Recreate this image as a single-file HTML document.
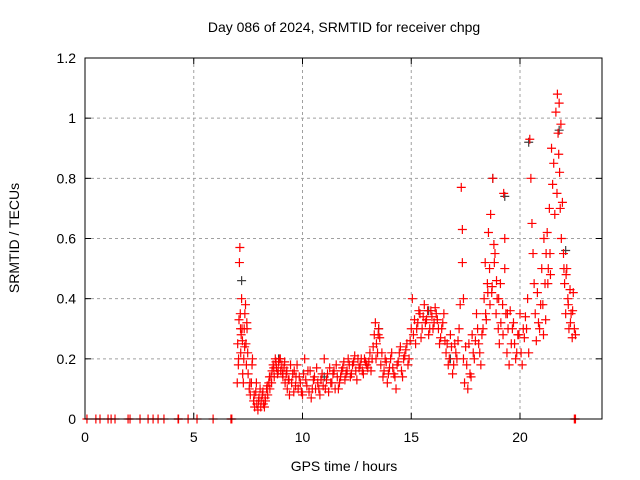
<!DOCTYPE html>
<html><head><meta charset="utf-8"><style>
body{margin:0;background:#fff}
svg{display:block;font-family:"Liberation Sans",sans-serif}
</style></head><body>
<svg id="chart" width="640" height="480" viewBox="0 0 640 480">
<rect width="640" height="480" fill="#fff"/>
<text x="344" y="32" font-size="14" text-anchor="middle">Day 086 of 2024, SRMTID for receiver chpg</text>
<text x="344" y="471" font-size="14" text-anchor="middle">GPS time / hours</text>
<text x="19" y="238" font-size="14" text-anchor="middle" transform="rotate(-90 19 238)">SRMTID / TECUs</text>
<g id="grid"></g>
<g id="ticks"></g>
<g id="dark"></g>
<g id="red"></g>
<rect x="85" y="58" width="517" height="361" fill="none" stroke="#000" stroke-width="1"/>
</svg>
<script>
const xTicks=[0,5,10,15,20];
const yTicks=[0,0.2,0.4,0.6,0.8,1,1.2];
const yTickLabels=["0","0.2","0.4","0.6","0.8","1","1.2"];
const zeroTimes=[0.09,0.5,0.69,1.06,1.2,1.38,1.98,2.07,2.53,2.9,3.13,3.36,3.63,4.28,4.3,4.74,5.15,5.89,6.71,6.75,22.5,22.55];
const redTimes=[7.0,7.02,7.05,7.08,7.1,7.12,7.14,7.16,7.18,7.2,7.22,7.25,7.28,7.3,7.32,7.35,7.38,7.4,7.42,7.45,7.48,
7.5,7.55,7.6,7.65,7.7,7.75,7.8,7.85,7.9,7.95,8.0,8.05,8.1,8.15,8.2,8.25,8.3,8.35,8.4,8.45,
8.5,8.55,8.6,8.65,8.7,8.75,8.8,8.85,8.9,8.95,9.0,9.05,9.1,9.15,9.2,9.25,9.3,
9.35,9.4,9.5,9.55,9.6,9.7,9.75,9.8,9.9,10.0,10.05,10.1,10.2,10.3,10.35,10.4,10.5,10.6,10.65,10.7,10.8,10.9,10.95,11.0,11.1,11.2,11.25,11.3,11.4,11.5,11.55,11.6,11.7,11.8,11.9,12.0,
12.1,12.2,12.3,12.4,12.5,12.6,12.7,12.8,12.9,13.0,13.1,13.2,13.3,13.35,13.4,13.45,13.5,13.55,13.6,13.7,13.8,13.9,14.0,14.1,14.2,14.3,14.4,14.5,14.6,14.7,14.8,14.9,
15.0,15.05,15.1,15.2,15.3,15.4,15.5,15.6,15.7,15.8,15.9,16.0,16.1,16.2,16.3,16.4,16.5,
16.6,16.7,16.8,16.9,17.0,17.1,17.2,17.25,17.3,17.35,17.35,17.4,17.4,17.45,17.5,17.6,17.7,17.8,17.9,18.0,18.1,18.2,18.3,
18.35,18.4,18.45,18.5,18.55,18.6,18.65,18.7,18.75,18.8,18.85,18.9,18.95,19.0,19.05,19.1,19.2,19.25,19.3,19.3,19.35,19.4,19.45,19.5,
19.6,19.7,19.8,19.9,20.0,20.1,20.2,20.3,20.35,20.4,20.45,20.5,20.55,20.6,20.65,20.7,20.8,20.9,21.0,21.05,21.1,21.15,21.2,21.25,21.3,21.35,21.4,
21.45,21.5,21.55,21.6,21.65,21.7,21.72,21.75,21.78,21.8,21.82,21.85,21.88,21.9,21.95,22.0,22.05,22.1,22.15,22.2,22.25,22.3,22.35,22.4,22.45,22.5,22.55];
const redValues=[0.12,0.25,0.18,0.33,0.52,0.57,0.35,0.22,0.28,0.4,0.3,0.15,0.12,0.2,0.3,0.35,0.38,0.25,0.18,0.3,0.22,
0.15,0.1,0.08,0.12,0.2,0.06,0.04,0.09,0.05,0.03,0.07,0.1,0.06,0.08,0.05,0.04,0.06,0.1,0.08,0.12,
0.1,0.14,0.16,0.18,0.14,0.2,0.17,0.15,0.19,0.2,0.16,0.18,0.14,0.17,0.12,0.15,0.1,
0.13,0.08,0.12,0.15,0.09,0.14,0.18,0.1,0.12,0.08,0.15,0.2,0.11,0.09,0.16,0.07,0.13,0.1,0.17,0.12,0.08,0.15,0.11,0.2,0.13,0.09,0.17,0.12,0.15,0.1,0.18,0.14,0.12,0.16,0.19,0.15,
0.2,0.14,0.18,0.21,0.13,0.17,0.2,0.15,0.19,0.17,0.22,0.2,0.28,0.32,0.25,0.22,0.3,0.27,0.18,0.14,0.2,0.12,0.17,0.22,0.15,0.1,0.19,0.24,0.14,0.21,0.25,0.2,
0.3,0.4,0.28,0.25,0.32,0.35,0.3,0.38,0.33,0.28,0.36,0.3,0.37,0.33,0.25,0.3,0.35,
0.22,0.18,0.28,0.15,0.25,0.2,0.3,0.38,0.77,0.63,0.52,0.4,0.2,0.12,0.24,0.1,0.15,0.28,0.2,0.35,0.25,0.18,0.3,
0.4,0.52,0.33,0.45,0.62,0.5,0.68,0.42,0.8,0.58,0.55,0.35,0.4,0.3,0.25,0.45,0.38,0.75,0.6,0.5,0.35,0.22,0.3,0.18,
0.25,0.32,0.2,0.28,0.35,0.18,0.27,0.3,0.4,0.22,0.93,0.8,0.65,0.55,0.45,0.35,0.42,0.3,0.5,0.38,0.6,0.45,0.55,0.62,0.5,0.7,0.48,
0.9,0.78,0.85,0.68,1.02,0.75,1.08,0.95,0.88,1.05,0.82,0.7,0.98,0.6,0.72,0.55,0.45,0.35,0.5,0.4,0.3,0.43,0.35,0.27,0.42,0.3,0.28];
const redTimesB=[7.06,7.15,7.24,7.34,7.44,7.58,7.68,7.78,7.88,7.98,8.08,8.18,8.28,8.38,8.48,8.58,8.68,8.78,8.88,8.98,9.08,9.18,9.28,9.38,9.45,9.62,9.68,9.85,9.95,10.15,10.25,10.45,10.55,10.75,10.85,11.05,11.15,11.35,11.45,11.65,11.75,11.85,11.95,12.05,12.15,12.25,12.35,12.45,12.55,12.65,12.75,12.85,12.95,13.05,13.15,13.25,13.38,13.48,13.65,13.75,13.85,13.95,14.05,14.15,14.25,14.35,14.45,14.55,14.65,14.75,14.85,14.95,15.15,15.25,15.35,15.45,15.55,15.65,15.75,15.85,15.95,16.05,16.15,16.25,16.35,16.45,16.55,16.65,16.75,16.85,16.95,17.05,17.15,17.55,17.65,17.75,17.85,17.95,18.05,18.15,18.25,18.42,18.52,18.62,18.72,18.82,18.92,19.02,19.12,19.22,19.42,19.55,19.65,19.75,19.85,19.95,20.05,20.15,20.25,20.75,20.85,20.95,21.08,21.18,21.28,21.38,22.02,22.12,22.22,22.32,22.42];
const redValuesB=[0.2,0.3,0.26,0.24,0.32,0.12,0.18,0.08,0.12,0.06,0.04,0.09,0.07,0.11,0.14,0.12,0.17,0.19,0.16,0.2,0.15,0.19,0.16,0.13,0.18,0.16,0.11,0.14,0.09,0.13,0.16,0.1,0.14,0.1,0.13,0.1,0.15,0.12,0.16,0.1,0.14,0.17,0.13,0.16,0.18,0.15,0.19,0.16,0.2,0.18,0.16,0.2,0.18,0.19,0.16,0.24,0.2,0.28,0.22,0.16,0.19,0.15,0.2,0.17,0.14,0.18,0.22,0.16,0.2,0.23,0.18,0.26,0.33,0.3,0.36,0.27,0.34,0.32,0.36,0.3,0.34,0.32,0.35,0.3,0.27,0.32,0.26,0.25,0.2,0.24,0.18,0.22,0.26,0.18,0.25,0.14,0.22,0.26,0.3,0.22,0.28,0.35,0.42,0.38,0.44,0.52,0.46,0.4,0.32,0.28,0.35,0.36,0.3,0.25,0.22,0.28,0.22,0.3,0.34,0.26,0.32,0.38,0.28,0.33,0.45,0.55,0.5,0.48,0.38,0.32,0.36,0.4];
const darkTimes=[7.2,8.9,11.0,13.5,15.8,16.8,18.75,19.3,20.4,21.8,22.1];
const darkValues=[0.46,0.2,0.14,0.3,0.36,0.2,0.8,0.74,0.92,0.96,0.56];

const X0=85,XS=21.75,Y0=419,YS=361/1.2;
function xp(t){return X0+t*XS;}
function yp(v){return Y0-v*YS;}
const NS="http://www.w3.org/2000/svg";
function mk(tag,attrs,parent){const e=document.createElementNS(NS,tag);for(const k in attrs)e.setAttribute(k,attrs[k]);parent.appendChild(e);return e;}
const grid=document.getElementById('grid'),ticks=document.getElementById('ticks');
xTicks.forEach(t=>{
  const x=xp(t);
  if(t>0){const g=mk('line',{x1:x,x2:x,y1:58,y2:419,stroke:'#a0a0a0','stroke-dasharray':'3,3'},grid);
  
  }
  mk('line',{x1:x,x2:x,y1:419,y2:413,stroke:'#000'},ticks);
  mk('line',{x1:x,x2:x,y1:58,y2:64,stroke:'#000'},ticks);
  const l=mk('text',{x:x,y:442,'font-size':14,'text-anchor':'middle'},ticks);l.textContent=t;
  
  
});
yTicks.forEach((v,i)=>{
  const y=yp(v);
  if(v>0&&v<1.2){const g=mk('line',{x1:85,x2:602,y1:y,y2:y,stroke:'#a0a0a0','stroke-dasharray':'3,3'},grid);
  
  }
  mk('line',{x1:85,x2:91,y1:y,y2:y,stroke:'#000'},ticks);
  mk('line',{x1:602,x2:596,y1:y,y2:y,stroke:'#000'},ticks);
  const l=mk('text',{x:76,y:y+5,'font-size':14,'text-anchor':'end'},ticks);l.textContent=yTickLabels[i];
  
  
});
function plus(g,t,v,col){
  const x=xp(t),y=yp(v);
  const p=mk('path',{d:`M${x-4.5},${y}H${x+4.5}M${x},${y-4.5}V${y+4.5}`,stroke:col,'stroke-width':1.2,fill:'none'},g);
  
  
}
const dark=document.getElementById('dark'),red=document.getElementById('red');
darkTimes.forEach((t,i)=>plus(dark,t,darkValues[i],'#404040'));
redTimes.forEach((t,i)=>plus(red,t,redValues[i],'#ff0000'));
redTimesB.forEach((t,i)=>plus(red,t,redValuesB[i],'#ff0000'));
zeroTimes.forEach(t=>plus(red,t,0,'#ff0000'));
</script>
</body></html>
